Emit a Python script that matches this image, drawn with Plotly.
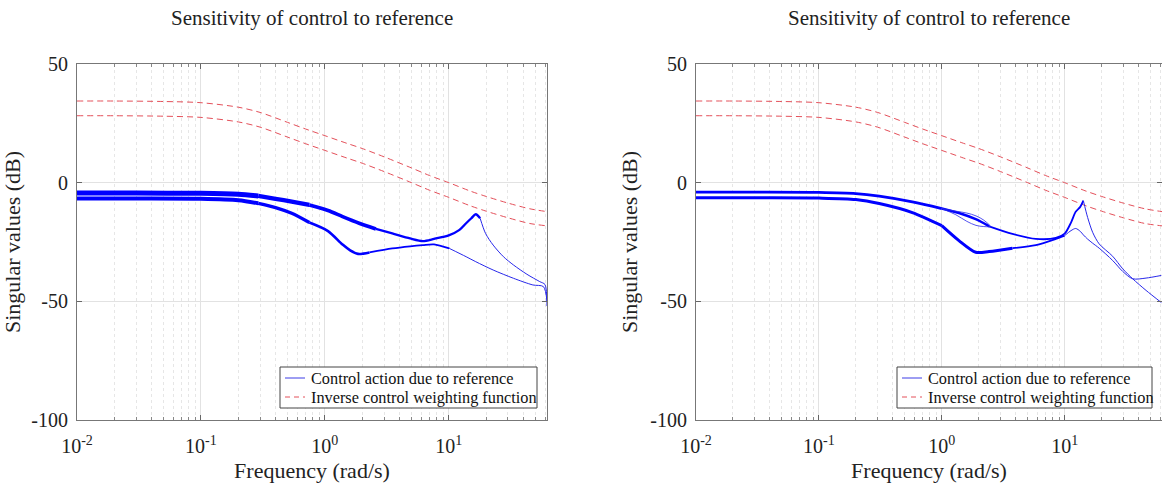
import math
import plotly.graph_objects as go

# weighting functions (dB), same in both panels
freq_w = [0.01, 0.02, 0.05, 0.1, 0.2, 0.3, 0.5, 0.7, 1, 1.5, 2, 3, 5, 7, 10, 15, 20, 30, 45, 62]
w_upper_db = [34.4, 34.4, 34.2, 33.7, 31.8, 29.6, 25.4, 22.6, 19.8, 16.6, 14.4, 10.9, 6.2, 3.0,
              0.0, -3.6, -5.8, -8.6, -11.0, -12.2]
w_lower_db = [28.2, 28.2, 28.0, 27.5, 25.6, 23.4, 19.2, 16.4, 13.6, 10.4, 8.2, 4.7, 0.0, -3.2,
              -6.2, -9.8, -12.0, -14.8, -17.2, -18.2]

# left panel, control action singular values
left_up_f = [0.01, 0.03, 0.1, 0.2, 0.29, 0.4, 0.54, 0.75, 1.06, 1.39, 1.89, 2.58, 3.5, 4.87, 6.17,
             7.6, 10.1, 12.2, 13.8, 15.2, 16.5, 17.9, 19.8, 22.8, 27.6, 33.3, 42.7, 54.2, 59.7, 62]
left_up_db = [-4.4, -4.4, -4.5, -4.9, -5.6, -6.8, -8.0, -9.4, -11.7, -14.3, -17.1, -19.5, -21.4,
              -23.5, -24.6, -23.7, -22.1, -19.9, -17.1, -15.0, -13.3, -15.0, -21.4, -26.3, -31.2,
              -34.7, -38.6, -41.7, -42.9, -52.0]
left_lo_f = [0.01, 0.03, 0.1, 0.2, 0.29, 0.4, 0.54, 0.75, 1.06, 1.39, 1.6, 1.85, 2.29, 3.5, 4.87,
             6.17, 7.6, 10.1, 13.8, 16.5, 22.8, 33.3, 47.7, 58, 62]
left_lo_db = [-6.7, -6.7, -6.8, -7.4, -8.7, -10.5, -12.9, -16.8, -20.4, -26.1, -28.5, -30.0, -29.4,
              -27.7, -26.8, -26.3, -26.0, -27.7, -31.2, -33.3, -36.8, -40.3, -43.1, -43.8, -50.0]

# right panel
right_f = [0.01, 0.03, 0.1, 0.2, 0.31, 0.576, 1.0, 1.38, 1.89, 2.43, 3.76, 5.83, 8.48, 10, 11.27,
           12.3, 13.4, 14.2, 15.4, 16.9, 19.1, 24.6, 29.7, 35.8, 46, 61.2]
right_up_db = [-4.0, -4.0, -4.1, -4.6, -5.7, -8.1, -10.9, -12.8, -15.4, -18.4, -21.6, -23.7, -23.3,
               -21.5, -16.8, -12.3, -10.2, -7.6, -14.7, -20.9, -25.8, -31.0, -36.3, -40.5, -45.4,
               -50.5]
right_lo_db = [-6.4, -6.4, -6.5, -7.1, -8.8, -12.6, -18.1, -24.4, -29.3, -29.0, -27.6, -26.3, -23.7,
               -22.3, -20.2, -19.3, -20.5, -22.0, -23.8, -25.5, -27.6, -32.8, -37.4, -40.5, -40.2,
               -39.1]
fan_f = [1.0, 1.3, 1.6, 1.9, 2.2, 2.5]
fan_hi_db = [-10.9, -12.0, -12.8, -14.0, -15.8, -18.3]
fan_lo_db = [-10.9, -13.5, -16.3, -18.0, -18.5, -18.6]

x_ticks = [0.01, 0.1, 1, 10]
x_ticktext = ['10<sup>-2</sup>', '10<sup>-1</sup>', '10<sup>0</sup>', '10<sup>1</sup>']
y_ticks = [-100, -50, 0, 50]
y_ticktext = ['-100', '-50', '0', '50']
legend_names = ['Control action due to reference', 'Inverse control weighting function']

TITLE = 'Sensitivity of control to reference'
SERIF = 'Liberation Serif'
BLUE = 'rgb(0,0,255)'
THIN_BLUE = 'rgb(40,40,235)'
RED = 'rgb(228,80,90)'

W, H = 1162, 493
panels = [
    dict(x0=77, x1=547, xaxis='x', yaxis='y', leg=(280, 537)),
    dict(x0=696, x1=1162, xaxis='x2', yaxis='y2', leg=(897, 1152)),
]
y_top, y_bot = 64, 420
leg_top, leg_bot = 367, 408


def px(x):
    return x / W


def py(y):
    return 1 - y / H


def add_segments(fig, f, db, cuts, widths, xaxis, yaxis):
    # draw one curve in pieces so the bundle looks thicker at low frequency
    edges = [f[0]] + cuts + [f[-1]]
    for (lo, hi), w in zip(zip(edges[:-1], edges[1:]), widths):
        xs = [a for a in f if lo <= a <= hi]
        ys = [b for a, b in zip(f, db) if lo <= a <= hi]
        fig.add_trace(go.Scatter(
            x=xs, y=ys, mode='lines', xaxis=xaxis, yaxis=yaxis, showlegend=False,
            line=dict(color=BLUE if w > 1.2 else THIN_BLUE, width=w, shape='spline', smoothing=0.8),
            hoverinfo='skip'))


fig = go.Figure()

for i, p in enumerate(panels):
    for wdb in (w_upper_db, w_lower_db):
        fig.add_trace(go.Scatter(
            x=freq_w, y=wdb, mode='lines', showlegend=False, xaxis=p['xaxis'], yaxis=p['yaxis'],
            line=dict(color=RED, width=1, dash='6px,4px', shape='spline', smoothing=0.8)))

    if i == 0:
        add_segments(fig, left_up_f, left_up_db, [0.29, 0.75, 2.58, 17.9],
                     [5.0, 4.3, 3.6, 2.3, 1.0], 'x', 'y')
        add_segments(fig, left_lo_f, left_lo_db, [0.29, 0.75, 2.29, 10.1],
                     [4.0, 3.3, 2.6, 1.8, 1.0], 'x', 'y')
    else:
        add_segments(fig, right_f, right_up_db, [1.0, 2.43, 14.2], [2.8, 2.5, 1.8, 1.0], 'x2', 'y2')
        add_segments(fig, right_f, right_lo_db, [1.0, 3.76, 10], [3.0, 3.0, 1.8, 1.0], 'x2', 'y2')
        for fan in (fan_hi_db, fan_lo_db):
            fig.add_trace(go.Scatter(x=fan_f, y=fan, mode='lines', xaxis='x2', yaxis='y2',
                                     showlegend=False, hoverinfo='skip',
                                     line=dict(color=THIN_BLUE, width=0.8, shape='spline')))

minor_vals = [m * 10 ** e for e in range(-2, 2) for m in range(2, 10) if m * 10 ** e < 62]

x_style = dict(
    type='log', range=[-2, math.log10(62)], tickmode='array', tickvals=x_ticks, ticktext=x_ticktext,
    ticks='inside', ticklen=5, tickcolor='#666', showline=True, linecolor='#777', linewidth=1,
    mirror='ticks', showgrid=True, gridcolor='#e2e2e2', zeroline=False, automargin=False,
    ticklabelstandoff=8, tickfont=dict(family=SERIF, size=20, color='#222'),
    minor=dict(tickmode='array', tickvals=minor_vals, ticks='inside', ticklen=3, tickcolor='#888',
               showgrid=True, gridcolor='#e6e6e6', griddash='dot'),
    title=dict(text='Frequency (rad/s)', font=dict(family=SERIF, size=22, color='#222'), standoff=6),
)
y_style = dict(
    range=[-100, 50], tickmode='array', tickvals=y_ticks, ticktext=y_ticktext, ticks='inside',
    ticklen=5, tickcolor='#666', showline=True, linecolor='#777', linewidth=1, mirror='ticks',
    showgrid=True, gridcolor='#e2e2e2', zeroline=False, automargin=False, ticklabelstandoff=4,
    tickfont=dict(family=SERIF, size=20, color='#222'),
    title=dict(text='Singular values (dB)', font=dict(family=SERIF, size=22, color='#222'), standoff=6),
)

layout = dict(
    width=W, height=H, template='none', margin=dict(l=0, r=0, t=0, b=0), showlegend=False,
    paper_bgcolor='white', plot_bgcolor='white', font=dict(family=SERIF, color='#222'),
)
annotations = []
shapes = []
for i, p in enumerate(panels):
    sfx = '' if i == 0 else '2'
    layout['xaxis' + sfx] = dict(x_style, domain=[px(p['x0']), px(p['x1'])], anchor='y' + sfx)
    layout['yaxis' + sfx] = dict(y_style, domain=[py(y_bot), py(y_top)], anchor='x' + sfx)
    annotations.append(dict(text=TITLE, x=px((p['x0'] + p['x1']) / 2), y=py(18), xref='paper',
                            yref='paper', xanchor='center', yanchor='middle', showarrow=False,
                            font=dict(family=SERIF, size=21, color='#222')))

    # legend box drawn by hand, MATLAB style
    lx0, lx1 = p['leg']
    shapes.append(dict(type='rect', xref='paper', yref='paper', x0=px(lx0), x1=px(lx1),
                       y0=py(leg_bot), y1=py(leg_top), fillcolor='white',
                       line=dict(color='#444', width=1), layer='above'))
    for k, (name, color, dash) in enumerate(zip(legend_names, ['rgb(60,60,230)', RED],
                                                ['solid', '5px,4px'])):
        row_y = leg_top + 11 + k * 19
        shapes.append(dict(type='line', xref='paper', yref='paper', x0=px(lx0 + 5), x1=px(lx0 + 25),
                           y0=py(row_y), y1=py(row_y), line=dict(color=color, width=1, dash=dash),
                           layer='above'))
        annotations.append(dict(text=name, x=px(lx0 + 29), y=py(row_y), xref='paper', yref='paper',
                                xanchor='left', yanchor='middle', showarrow=False,
                                font=dict(family=SERIF, size=16.3, color='#111')))

layout['annotations'] = annotations
layout['shapes'] = shapes

fig.update_layout(**layout)
fig.write_html('out.html', config={'displayModeBar': False},
               post_script="document.body.style.margin='0px';")
